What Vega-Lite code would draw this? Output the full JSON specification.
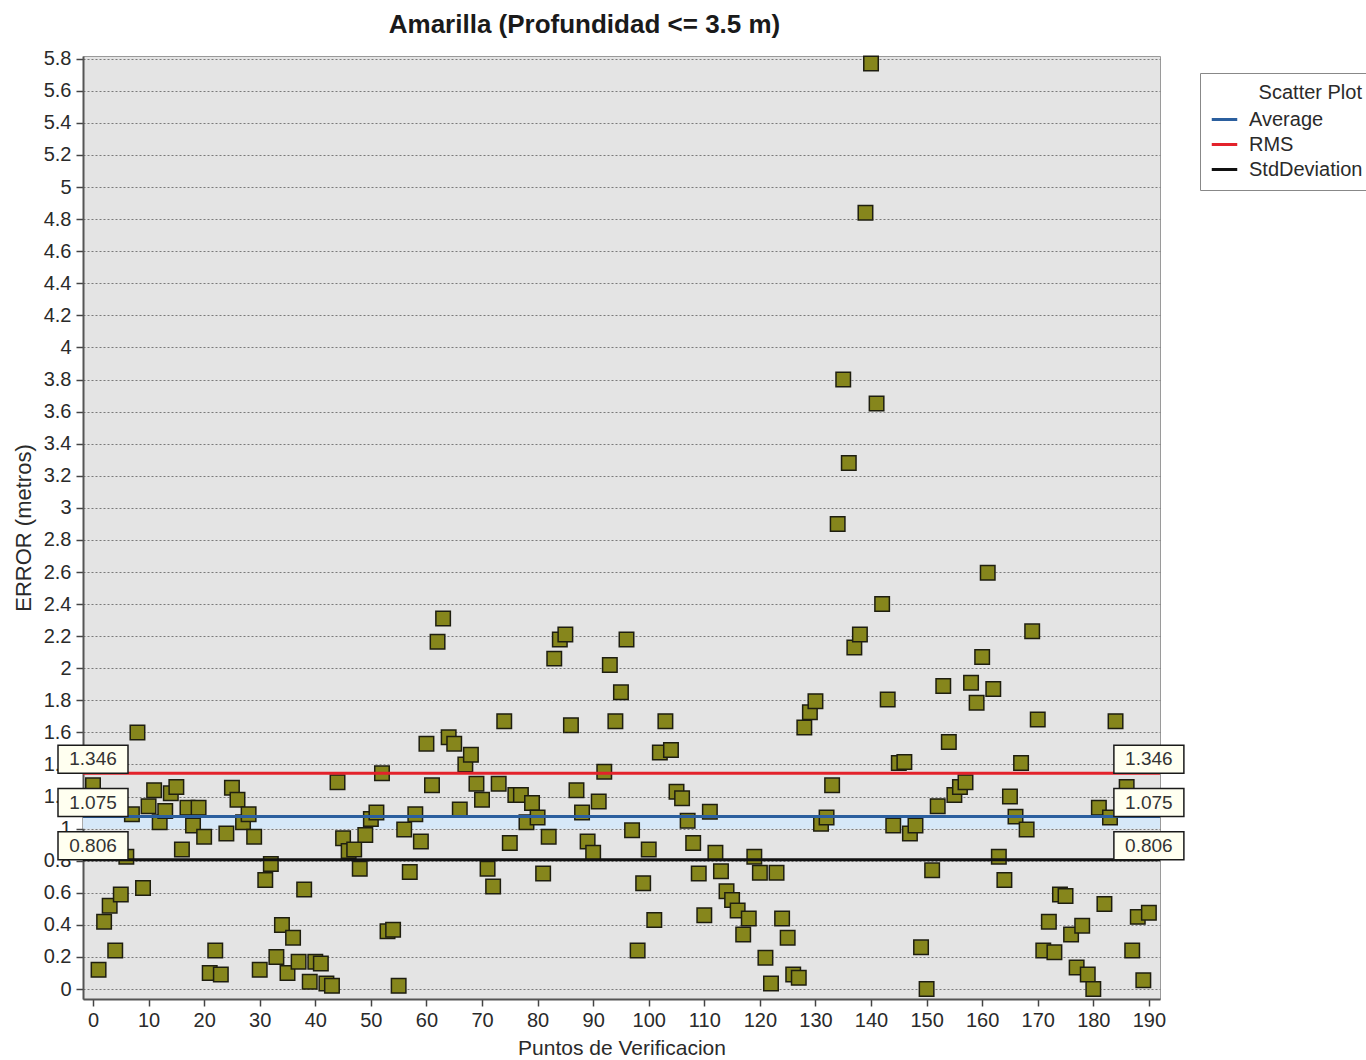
{
  "$schema": "https://vega.github.io/schema/vega-lite/v6.json",
  "width": 1077,
  "height": 943,
  "autosize": {"type": "none"},
  "padding": {"left": 83, "top": 56, "right": 206, "bottom": 61},
  "background": "#ffffff",
  "title": {
    "text": "Amarilla (Profundidad <= 3.5 m)",
    "font": "Liberation Sans",
    "fontSize": 26,
    "fontWeight": "bold",
    "color": "#1a1a1a",
    "anchor": "middle",
    "frame": "group",
    "dx": -37,
    "offset": 11
  },
  "config": {
    "view": {"fill": "#e4e4e4", "stroke": "#9a9a9a", "strokeWidth": 1},
    "font": "Liberation Sans",
    "axis": {
      "labelFont": "Liberation Sans",
      "titleFont": "Liberation Sans",
      "labelColor": "#2a2a2a",
      "titleColor": "#2a2a2a",
      "titleFontWeight": "normal",
      "domainColor": "#555555",
      "domainWidth": 2,
      "tickColor": "#444444",
      "tickWidth": 1.5,
      "labelOverlap": false
    }
  },
  "datasets": {
    "points": [
      {"i": 0, "v": 1.27}, {"i": 1, "v": 0.12}, {"i": 2, "v": 0.42}, {"i": 3, "v": 0.52}, {"i": 4, "v": 0.24},
      {"i": 5, "v": 0.59}, {"i": 6, "v": 0.825}, {"i": 7, "v": 1.09}, {"i": 8, "v": 1.60}, {"i": 9, "v": 0.63},
      {"i": 10, "v": 1.14}, {"i": 11, "v": 1.24}, {"i": 12, "v": 1.04}, {"i": 13, "v": 1.11}, {"i": 14, "v": 1.22},
      {"i": 15, "v": 1.26}, {"i": 16, "v": 0.87}, {"i": 17, "v": 1.13}, {"i": 18, "v": 1.02}, {"i": 19, "v": 1.13},
      {"i": 20, "v": 0.95}, {"i": 21, "v": 0.10}, {"i": 22, "v": 0.24}, {"i": 23, "v": 0.09}, {"i": 24, "v": 0.97},
      {"i": 25, "v": 1.255}, {"i": 26, "v": 1.18}, {"i": 27, "v": 1.04}, {"i": 28, "v": 1.09}, {"i": 29, "v": 0.95},
      {"i": 30, "v": 0.12}, {"i": 31, "v": 0.68}, {"i": 32, "v": 0.78}, {"i": 33, "v": 0.20}, {"i": 34, "v": 0.40},
      {"i": 35, "v": 0.10}, {"i": 36, "v": 0.32}, {"i": 37, "v": 0.17}, {"i": 38, "v": 0.62}, {"i": 39, "v": 0.045},
      {"i": 40, "v": 0.17}, {"i": 41, "v": 0.16}, {"i": 42, "v": 0.035}, {"i": 43, "v": 0.02}, {"i": 44, "v": 1.29},
      {"i": 45, "v": 0.94}, {"i": 46, "v": 0.86}, {"i": 47, "v": 0.87}, {"i": 48, "v": 0.75}, {"i": 49, "v": 0.96},
      {"i": 50, "v": 1.06}, {"i": 51, "v": 1.10}, {"i": 52, "v": 1.345}, {"i": 53, "v": 0.36}, {"i": 54, "v": 0.37},
      {"i": 55, "v": 0.02}, {"i": 56, "v": 0.995}, {"i": 57, "v": 0.73}, {"i": 58, "v": 1.09}, {"i": 59, "v": 0.92},
      {"i": 60, "v": 1.53}, {"i": 61, "v": 1.27}, {"i": 62, "v": 2.165}, {"i": 63, "v": 2.31}, {"i": 64, "v": 1.57},
      {"i": 65, "v": 1.53}, {"i": 66, "v": 1.12}, {"i": 67, "v": 1.40}, {"i": 68, "v": 1.46}, {"i": 69, "v": 1.28},
      {"i": 70, "v": 1.18}, {"i": 71, "v": 0.75}, {"i": 72, "v": 0.64}, {"i": 73, "v": 1.28}, {"i": 74, "v": 1.67},
      {"i": 75, "v": 0.91}, {"i": 76, "v": 1.21}, {"i": 77, "v": 1.21}, {"i": 78, "v": 1.04}, {"i": 79, "v": 1.16},
      {"i": 80, "v": 1.07}, {"i": 81, "v": 0.72}, {"i": 82, "v": 0.95}, {"i": 83, "v": 2.06}, {"i": 84, "v": 2.18},
      {"i": 85, "v": 2.21}, {"i": 86, "v": 1.645}, {"i": 87, "v": 1.24}, {"i": 88, "v": 1.10}, {"i": 89, "v": 0.92},
      {"i": 90, "v": 0.85}, {"i": 91, "v": 1.17}, {"i": 92, "v": 1.355}, {"i": 93, "v": 2.02}, {"i": 94, "v": 1.67},
      {"i": 95, "v": 1.85}, {"i": 96, "v": 2.18}, {"i": 97, "v": 0.99}, {"i": 98, "v": 0.24}, {"i": 99, "v": 0.66},
      {"i": 100, "v": 0.87}, {"i": 101, "v": 0.43}, {"i": 102, "v": 1.475}, {"i": 103, "v": 1.67}, {"i": 104, "v": 1.49},
      {"i": 105, "v": 1.23}, {"i": 106, "v": 1.19}, {"i": 107, "v": 1.05}, {"i": 108, "v": 0.91}, {"i": 109, "v": 0.72},
      {"i": 110, "v": 0.46}, {"i": 111, "v": 1.105}, {"i": 112, "v": 0.85}, {"i": 113, "v": 0.735}, {"i": 114, "v": 0.61},
      {"i": 115, "v": 0.555}, {"i": 116, "v": 0.49}, {"i": 117, "v": 0.34}, {"i": 118, "v": 0.44}, {"i": 119, "v": 0.825},
      {"i": 120, "v": 0.725}, {"i": 121, "v": 0.195}, {"i": 122, "v": 0.035}, {"i": 123, "v": 0.725}, {"i": 124, "v": 0.44},
      {"i": 125, "v": 0.32}, {"i": 126, "v": 0.09}, {"i": 127, "v": 0.07}, {"i": 128, "v": 1.63}, {"i": 129, "v": 1.725},
      {"i": 130, "v": 1.795}, {"i": 131, "v": 1.03}, {"i": 132, "v": 1.07}, {"i": 133, "v": 1.27}, {"i": 134, "v": 2.90},
      {"i": 135, "v": 3.80}, {"i": 136, "v": 3.28}, {"i": 137, "v": 2.13}, {"i": 138, "v": 2.21}, {"i": 139, "v": 4.84},
      {"i": 140, "v": 5.77}, {"i": 141, "v": 3.65}, {"i": 142, "v": 2.40}, {"i": 143, "v": 1.805}, {"i": 144, "v": 1.02},
      {"i": 145, "v": 1.41}, {"i": 146, "v": 1.415}, {"i": 147, "v": 0.97}, {"i": 148, "v": 1.02}, {"i": 149, "v": 0.26},
      {"i": 150, "v": 0.0}, {"i": 151, "v": 0.74}, {"i": 152, "v": 1.14}, {"i": 153, "v": 1.89}, {"i": 154, "v": 1.54},
      {"i": 155, "v": 1.21}, {"i": 156, "v": 1.26}, {"i": 157, "v": 1.29}, {"i": 158, "v": 1.91}, {"i": 159, "v": 1.785},
      {"i": 160, "v": 2.07}, {"i": 161, "v": 2.595}, {"i": 162, "v": 1.87}, {"i": 163, "v": 0.825}, {"i": 164, "v": 0.68},
      {"i": 165, "v": 1.20}, {"i": 166, "v": 1.075}, {"i": 167, "v": 1.41}, {"i": 168, "v": 0.995}, {"i": 169, "v": 2.23},
      {"i": 170, "v": 1.68}, {"i": 171, "v": 0.24}, {"i": 172, "v": 0.42}, {"i": 173, "v": 0.23}, {"i": 174, "v": 0.59},
      {"i": 175, "v": 0.58}, {"i": 176, "v": 0.34}, {"i": 177, "v": 0.135}, {"i": 178, "v": 0.395}, {"i": 179, "v": 0.09},
      {"i": 180, "v": 0.0}, {"i": 181, "v": 1.13}, {"i": 182, "v": 0.53}, {"i": 183, "v": 1.07}, {"i": 184, "v": 1.67},
      {"i": 186, "v": 1.26}, {"i": 187, "v": 0.24}, {"i": 188, "v": 0.45}, {"i": 189, "v": 0.055}, {"i": 190, "v": 0.475}
    ],
    "stats": [
      {"name": "Average", "value": 1.075},
      {"name": "RMS", "value": 1.346},
      {"name": "StdDeviation", "value": 0.806}
    ],
    "band": [{"lo": 1.0, "hi": 1.075}]
  },
  "layer": [
    {
      "data": {"name": "band"},
      "mark": {"type": "rect", "fill": "#d6e8f8"},
      "encoding": {
        "y": {
          "field": "lo", "type": "quantitative",
          "scale": {"domain": [-0.062, 5.817], "nice": false, "zero": false},
          "axis": {
            "title": "ERROR (metros)",
            "titleFontSize": 22,
            "titlePadding": 8,
            "values": [0, 0.2, 0.4, 0.6, 0.8, 1, 1.2, 1.4, 1.6, 1.8, 2, 2.2, 2.4, 2.6, 2.8, 3, 3.2, 3.4, 3.6, 3.8, 4, 4.2, 4.4, 4.6, 4.8, 5, 5.2, 5.4, 5.6, 5.8],
            "tickCount": 60,
            "format": "~g",
            "labelFontSize": 20,
            "labelPadding": 5,
            "labelOverlap": false,
            "tickSize": 7,
            "grid": true,
            "gridColor": "#7a7a7a",
            "gridDash": [2, 2],
            "gridWidth": 1
          }
        },
        "y2": {"field": "hi"}
      }
    },
    {
      "data": {"name": "points"},
      "mark": {"type": "point", "shape": "square", "filled": true, "size": 210, "fill": "#86861c", "stroke": "#1e1e10", "strokeWidth": 1.5, "opacity": 1},
      "encoding": {
        "x": {
          "field": "i", "type": "quantitative",
          "scale": {"domain": [-1.8, 192.0], "nice": false, "zero": false},
          "axis": {
            "title": "Puntos de Verificacion",
            "titleFontSize": 21,
            "titlePadding": 7,
            "values": [0, 10, 20, 30, 40, 50, 60, 70, 80, 90, 100, 110, 120, 130, 140, 150, 160, 170, 180, 190],
            "tickCount": 40,
            "format": "d",
            "labelFontSize": 20,
            "labelPadding": 4,
            "tickSize": 7,
            "grid": false
          }
        },
        "y": {
          "field": "v", "type": "quantitative",
          "axis": {
            "title": "ERROR (metros)",
            "titleFontSize": 22,
            "titlePadding": 8,
            "values": [0, 0.2, 0.4, 0.6, 0.8, 1, 1.2, 1.4, 1.6, 1.8, 2, 2.2, 2.4, 2.6, 2.8, 3, 3.2, 3.4, 3.6, 3.8, 4, 4.2, 4.4, 4.6, 4.8, 5, 5.2, 5.4, 5.6, 5.8],
            "tickCount": 60,
            "format": "~g",
            "labelFontSize": 20,
            "labelPadding": 5,
            "labelOverlap": false,
            "tickSize": 7,
            "grid": true,
            "gridColor": "#7a7a7a",
            "gridDash": [2, 2],
            "gridWidth": 1
          }
        }
      }
    },
    {
      "data": {"name": "stats"},
      "mark": {"type": "rule", "strokeWidth": 3},
      "encoding": {
        "y": {"field": "value", "type": "quantitative"},
        "color": {
          "field": "name", "type": "nominal",
          "scale": {"domain": ["Average", "RMS", "StdDeviation"], "range": ["#2b5f9e", "#e3222b", "#111111"]},
          "legend": {
            "title": "Scatter Plot",
            "orient": "none",
            "legendX": 1117,
            "legendY": 17,
            "symbolType": "stroke",
            "symbolStrokeWidth": 3,
            "symbolSize": 650,
            "labelFontSize": 20,
            "labelFont": "Liberation Sans",
            "labelColor": "#2a2a2a",
            "labelOffset": 10,
            "titleFontSize": 20,
            "titleFont": "Liberation Sans",
            "titleFontWeight": "normal",
            "titleColor": "#2a2a2a",
            "titleAnchor": "end",
            "titlePadding": 2,
            "rowPadding": 0,
            "padding": 10,
            "strokeColor": "#888888",
            "fillColor": "#ffffff"
          }
        }
      }
    },
    {
      "data": {"name": "stats"},
      "mark": {"type": "point", "shape": "M-1,-0.8L1,-0.8L1,0L-1,0Z", "size": 4900, "filled": true, "fill": "#fffff0", "stroke": "#1a1a1a", "strokeWidth": 1.5, "opacity": 1},
      "encoding": {
        "x": {"datum": 0, "type": "quantitative"},
        "y": {"field": "value", "type": "quantitative"}
      }
    },
    {
      "data": {"name": "stats"},
      "mark": {"type": "text", "fontSize": 19, "font": "Liberation Sans", "color": "#333333", "align": "center", "baseline": "middle", "dy": -14},
      "encoding": {
        "x": {"datum": 0, "type": "quantitative"},
        "y": {"field": "value", "type": "quantitative"},
        "text": {"field": "value", "type": "quantitative", "format": ".3f"}
      }
    },
    {
      "data": {"name": "stats"},
      "mark": {"type": "point", "shape": "M-1,-0.8L1,-0.8L1,0L-1,0Z", "size": 4900, "filled": true, "fill": "#fffff0", "stroke": "#1a1a1a", "strokeWidth": 1.5, "opacity": 1},
      "encoding": {
        "x": {"datum": 190, "type": "quantitative"},
        "y": {"field": "value", "type": "quantitative"}
      }
    },
    {
      "data": {"name": "stats"},
      "mark": {"type": "text", "fontSize": 19, "font": "Liberation Sans", "color": "#333333", "align": "center", "baseline": "middle", "dy": -14},
      "encoding": {
        "x": {"datum": 190, "type": "quantitative"},
        "y": {"field": "value", "type": "quantitative"},
        "text": {"field": "value", "type": "quantitative", "format": ".3f"}
      }
    }
  ]
}
